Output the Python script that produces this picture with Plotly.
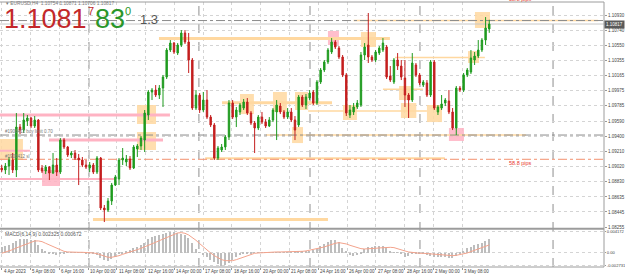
import plotly.graph_objects as go

# ---------------- data (EURUSD H4) ----------------
bars = list(range(134))

opens = [1.09000, 1.08975, 1.09025, 1.09101, 1.08975, 1.09517, 1.09479, 1.09593, 1.09631, 1.09530,
         1.09606, 1.09000, 1.08962, 1.09012, 1.08937, 1.09038, 1.08949, 1.09353, 1.09265, 1.09164,
         1.09189, 1.09126, 1.09101, 1.09038, 1.09000, 1.09038, 1.08949, 1.09126, 1.08495, 1.08470,
         1.08583, 1.08785, 1.08861, 1.09101, 1.09076, 1.09113, 1.09000, 1.09240, 1.09278, 1.09353,
         1.09669, 1.09959, 1.09984, 1.09921, 1.10009, 1.10148, 1.10489, 1.10577, 1.10451, 1.10552,
         1.10704, 1.10590, 1.10363, 1.09757, 1.09921, 1.09732, 1.09858, 1.09643, 1.09543, 1.09126,
         1.09227, 1.09265, 1.09391, 1.09820, 1.09643, 1.09707, 1.09757, 1.09833, 1.09694, 1.09568,
         1.09505, 1.09643, 1.09580, 1.09530, 1.09606, 1.09707, 1.09782, 1.09707, 1.09643, 1.09707,
         1.09606, 1.09543, 1.09896, 1.09795, 1.09883, 1.09959, 1.09820, 1.10085, 1.10237, 1.10338,
         1.10464, 1.10590, 1.10514, 1.10401, 1.10174, 1.09669, 1.09707, 1.09770, 1.09795, 1.10426,
         1.10552, 1.10401, 1.10363, 1.10451, 1.10489, 1.10527, 1.10161, 1.10085, 1.10363, 1.10287,
         1.10136, 1.09921, 1.09858, 1.10300, 1.10174, 1.10047, 1.10073, 1.09921, 1.10338, 1.09707,
         1.09757, 1.09820, 1.09845, 1.09707, 1.09505, 1.10009, 1.09984, 1.10174, 1.10211, 1.10363,
         1.10413, 1.10489, 1.10615, 1.10754]
highs = [1.09038, 1.09063, 1.09139, 1.09189, 1.09694, 1.09555, 1.09694, 1.09669, 1.09643, 1.09656,
         1.09618, 1.09038, 1.09038, 1.09025, 1.09189, 1.09126, 1.09378, 1.09378, 1.09278, 1.09214,
         1.09227, 1.09177, 1.09139, 1.09101, 1.09076, 1.09063, 1.09151, 1.09139, 1.08533, 1.08621,
         1.08811, 1.08912, 1.09126, 1.09252, 1.09164, 1.09151, 1.09290, 1.09303, 1.09404, 1.09732,
         1.09984, 1.10009, 1.10047, 1.10047, 1.10174, 1.10514, 1.10615, 1.10590, 1.10577, 1.10741,
         1.10741, 1.10704, 1.10388, 1.09984, 1.09946, 1.09959, 1.09984, 1.09669, 1.09568, 1.09278,
         1.09303, 1.09416, 1.09858, 1.09858, 1.09770, 1.09820, 1.09871, 1.09883, 1.09719, 1.09593,
         1.09669, 1.09707, 1.09618, 1.09643, 1.09757, 1.09858, 1.09820, 1.09732, 1.09757, 1.09757,
         1.09656, 1.09921, 1.09921, 1.09934, 1.09984, 1.09984, 1.10110, 1.10262, 1.10363, 1.10514,
         1.10640, 1.10615, 1.10540, 1.10426, 1.10199, 1.09795, 1.09820, 1.09858, 1.10464, 1.10577,
         1.10956, 1.10426, 1.10489, 1.10540, 1.10640, 1.10552, 1.10287, 1.10388, 1.10451, 1.10363,
         1.10363, 1.09946, 1.10451, 1.10325, 1.10199, 1.10110, 1.10110, 1.10363, 1.10363, 1.09795,
         1.09921, 1.09883, 1.09984, 1.09757, 1.10035, 1.10035, 1.10199, 1.10262, 1.10489, 1.10464,
         1.10615, 1.10640, 1.10905, 1.10871]
lows = [1.08949, 1.08924, 1.08912, 1.08937, 1.08886, 1.09429, 1.09442, 1.09530, 1.09505, 1.09505,
        1.08949, 1.08937, 1.08924, 1.08848, 1.08924, 1.08899, 1.08924, 1.09240, 1.09139, 1.09126,
        1.09101, 1.08785, 1.09012, 1.08987, 1.08949, 1.08924, 1.08924, 1.08470, 1.08318, 1.08445,
        1.08533, 1.08773, 1.08785, 1.09038, 1.09025, 1.08975, 1.08987, 1.09139, 1.09227, 1.09202,
        1.09606, 1.09858, 1.09896, 1.09871, 1.09770, 1.10123, 1.10464, 1.10439, 1.10426, 1.10527,
        1.10565, 1.10199, 1.09732, 1.09732, 1.09694, 1.09707, 1.09618, 1.09517, 1.09101, 1.09101,
        1.09202, 1.09227, 1.09353, 1.09618, 1.09517, 1.09669, 1.09732, 1.09669, 1.09543, 1.09189,
        1.09479, 1.09555, 1.09505, 1.09517, 1.09580, 1.09353, 1.09681, 1.09618, 1.09618, 1.09580,
        1.09353, 1.09517, 1.09770, 1.09744, 1.09858, 1.09795, 1.09795, 1.10060, 1.10211, 1.10312,
        1.10439, 1.10502, 1.10375, 1.10148, 1.09656, 1.09631, 1.09669, 1.09744, 1.09770, 1.10363,
        1.10325, 1.10338, 1.10338, 1.10426, 1.10464, 1.10123, 1.10085, 1.10060, 1.10237, 1.10110,
        1.09770, 1.09631, 1.09833, 1.10148, 1.10047, 1.10022, 1.09896, 1.09896, 1.09732, 1.09669,
        1.09732, 1.09782, 1.09681, 1.09479, 1.09416, 1.09959, 1.09959, 1.10148, 1.10186, 1.10300,
        1.10388, 1.10464, 1.10552, 1.10706]
closes = [1.08975, 1.09025, 1.09101, 1.08975, 1.09517, 1.09479, 1.09606, 1.09631, 1.09530, 1.09606,
          1.08975, 1.08962, 1.09012, 1.08937, 1.09038, 1.08949, 1.09353, 1.09265, 1.09164, 1.09189,
          1.09126, 1.09101, 1.09038, 1.09012, 1.09038, 1.08949, 1.09126, 1.08495, 1.08470, 1.08583,
          1.08785, 1.08886, 1.09101, 1.09126, 1.09113, 1.09000, 1.09265, 1.09278, 1.09378, 1.09694,
          1.09959, 1.09984, 1.09921, 1.10009, 1.10148, 1.10489, 1.10577, 1.10464, 1.10552, 1.10704,
          1.10590, 1.10363, 1.09757, 1.09921, 1.09732, 1.09858, 1.09643, 1.09543, 1.09126, 1.09252,
          1.09265, 1.09391, 1.09820, 1.09643, 1.09732, 1.09795, 1.09833, 1.09694, 1.09568, 1.09505,
          1.09643, 1.09580, 1.09530, 1.09606, 1.09732, 1.09795, 1.09707, 1.09643, 1.09707, 1.09606,
          1.09479, 1.09896, 1.09795, 1.09896, 1.09946, 1.09820, 1.10085, 1.10237, 1.10338, 1.10489,
          1.10590, 1.10527, 1.10401, 1.10174, 1.09694, 1.09732, 1.09770, 1.09820, 1.10426, 1.10527,
          1.10401, 1.10363, 1.10464, 1.10514, 1.10577, 1.10148, 1.10110, 1.10363, 1.10287, 1.10148,
          1.09921, 1.09858, 1.10325, 1.10174, 1.10073, 1.10085, 1.09921, 1.10338, 1.09757, 1.09770,
          1.09808, 1.09858, 1.09707, 1.09505, 1.10009, 1.09984, 1.10174, 1.10237, 1.10388, 1.10413,
          1.10489, 1.10615, 1.10767, 1.10817]

# MACD(6,14,9) main (histogram) and signal, in units of 1e-5
macd_main = [115, 128, 155, 196, 236, 270, 284, 284, 263, 250, 149, 81, 27, -34, -27, -47, -20, -7, 2, 7,
             3, 2, -3, -7, -7, -14, -54, -101, -149, -169, -135, -81, -34, -7, 41, 61, 95, 122, 162, 203,
             270, 311, 331, 351, 378, 398, 412, 417, 398, 385, 358, 304, 203, 81, 3, -54, -95, -149, -189, -236,
             -273, -243, -203, -149, -95, -47, -20, -14, -7, 2, 7, 7, 3, 3, 2, 3, 7, 7, 7, 14,
             20, 27, 34, 34, 41, 47, 81, 135, 169, 216, 250, 263, 223, 101, 20, -41, -61, -54, -14, 68,
             108, 122, 128, 135, 142, 95, 27, 7, 7, -7, -81, -61, -27, -20, -27, -34, -47, -68, -81, -88,
             -95, -95, -101, -108, -74, -27, 20, 88, 122, 149, 176, 203, 236, 270]
macd_signal = [-20, 0, 27, 54, 88, 115, 149, 182, 209, 230, 230, 216, 182, 149, 115, 81, 47, 20, 7, 0,
               0, 0, 0, 0, -7, -14, -27, -54, -81, -101, -101, -88, -68, -41, -20, 0, 27, 54, 81, 108,
               135, 169, 203, 236, 270, 304, 338, 371, 392, 398, 385, 351, 304, 243, 176, 108, 47, -14, -68, -115,
               -149, -169, -176, -169, -149, -122, -95, -68, -47, -20, -14, -7, 0, 0, 0, 7, 7, 7, 14, 14,
               14, 20, 20, 27, 41, 54, 68, 88, 108, 135, 162, 182, 196, 189, 169, 142, 115, 88, 74, 68,
               68, 74, 81, 88, 95, 101, 101, 95, 68, 47, 27, 7, -7, -14, -20, -20, -27, -34, -41, -47,
               -54, -61, -68, -68, -61, -47, -34, -14, 14, 41, 68, 95, 122, 149]

price_ticks = [1.10930, 1.10740, 1.10550, 1.10355, 1.10165, 1.09975, 1.09785, 1.09590,
               1.09400, 1.09210, 1.09020, 1.08830, 1.08635, 1.08445, 1.08255]
macd_ticks = [0.004172, 0.0, -0.002731]
macd_tick_text = ["0.004172", "0.00", "-0.002731"]

date_labels = ["4 Apr 2023", "5 Apr 08:00", "6 Apr 16:00", "10 Apr 00:00", "11 Apr 08:00",
               "12 Apr 16:00", "14 Apr 00:00", "17 Apr 08:00", "18 Apr 16:00", "20 Apr 00:00",
               "21 Apr 08:00", "24 Apr 16:00", "26 Apr 00:00", "27 Apr 08:00", "28 Apr 16:00",
               "2 May 00:00", "3 May 08:00"]
date_bars = [0, 7.85, 15.7, 23.55, 31.4, 39.25, 47.1, 54.95, 62.8, 70.65, 78.5, 86.35, 94.2,
             102.05, 109.9, 117.75, 125.6]
separator_bars = [23.8, 53.8, 84.1, 114.1, 150.4]

last_price = 1.10817
symbol_line = "EURUSD,H4  1.10754 1.10871 1.10706 1.10817"

ORANGE = "#FFD8A0"
PINK = "#FFB3C3"

# drawn levels: (from bar, to bar, price, colour, width)
levels = [
    (42.9, 105.9, 1.10634, ORANGE, 3),
    (60.1, 90.1, 1.09824, ORANGE, 3),
    (107.3, 131.8, 1.10394, ORANGE, 1.5),
    (104.0, 114.9, 1.09993, ORANGE, 1.5),
    (83.6, 116.0, 1.09719, ORANGE, 1.5),
    (24.9, 89.0, 1.08350, ORANGE, 3),
    (55.5, 120.9, 1.09122, ORANGE, 2),
    (72.1, 143.0, 1.09416, ORANGE, 1.5),
    (96.0, 162.7, 1.10861, ORANGE, 1.5),
    (-0.5, 45.9, 1.09669, PINK, 3),
    (12.9, 44.0, 1.09353, PINK, 3),
    (-0.5, 7.7, 1.09218, PINK, 2),
    (-0.5, 30.9, 1.08861, PINK, 2),
]
# zones: (from bar, to bar, upper price, lower price, colour)
zones = [
    (89.0, 92.0, 1.10729, 1.10552, PINK),
    (98.0, 102.1, 1.10716, 1.10527, ORANGE),
    (129.1, 133.2, 1.10969, 1.10767, ORANGE),
    (127.2, 130.2, 1.10476, 1.10325, ORANGE),
    (108.4, 111.9, 1.10035, 1.09858, ORANGE),
    (108.9, 113.1, 1.09820, 1.09631, ORANGE),
    (116.0, 120.1, 1.09795, 1.09580, ORANGE),
    (93.1, 96.9, 1.09795, 1.09606, ORANGE),
    (122.0, 126.1, 1.09505, 1.09341, PINK),
    (79.2, 82.2, 1.09517, 1.09315, ORANGE),
    (65.0, 68.8, 1.09934, 1.09681, ORANGE),
    (74.0, 77.8, 1.09959, 1.09707, ORANGE),
    (80.0, 83.6, 1.09959, 1.09732, ORANGE),
    (36.9, 42.1, 1.09795, 1.09555, ORANGE),
    (36.9, 42.1, 1.09454, 1.09227, ORANGE),
    (-0.5, 5.8, 1.09366, 1.09101, ORANGE),
    (11.0, 15.9, 1.08975, 1.08773, PINK),
]
# full-width order lines: (price, colour)
order_lines = [(1.10861, "#8C8C8C"), (1.09416, "#8C8C8C"), (1.09110, "#F2906E")]

# ---------------- figure ----------------
W, H = 625, 277
ML, MR, MT, MB = 0, 21, 2, 10
PW, PH = W - ML - MR, H - MT - MB
MAIN_DOM = [0.1472, 1.0]
SUB_DOM = [0.0, 0.1415]
XR = [-0.464, 164.3]
GRID = "#D4D4D4"
GREEN = "#1F9B1F"
RED = "#C41F1F"
FONT = "Arial"
TICK_FS = 4.5


def pxx(x):
    return (x - ML) / PW


def pxy(y):
    return 1 - (y - MT) / PH


fig = go.Figure()
fig.add_trace(go.Candlestick(
    x=bars, open=opens, high=highs, low=lows, close=closes,
    increasing=dict(line=dict(color=GREEN, width=1), fillcolor=GREEN),
    decreasing=dict(line=dict(color=RED, width=1), fillcolor=RED),
    whiskerwidth=0, xaxis="x", yaxis="y", showlegend=False, hoverinfo="skip"))
fig.add_trace(go.Bar(
    x=bars, y=[v * 1e-5 for v in macd_main], width=0.38,
    marker=dict(color="#BDBDBD", line=dict(width=0)),
    xaxis="x2", yaxis="y2", showlegend=False, hoverinfo="skip"))
fig.add_trace(go.Scatter(
    x=bars, y=[v * 1e-5 for v in macd_signal], mode="lines",
    line=dict(color="#F3A38C", width=1),
    xaxis="x2", yaxis="y2", showlegend=False, hoverinfo="skip"))

shapes = []
for x0, x1, p0, p1, c in zones:
    shapes.append(dict(type="rect", xref="x", yref="y", x0=x0, x1=x1, y0=p1, y1=p0,
                       fillcolor=c, opacity=0.85, line=dict(width=0), layer="between"))
for x0, x1, p, c, w in levels:
    shapes.append(dict(type="line", xref="x", yref="y", x0=x0, x1=x1, y0=p, y1=p,
                       line=dict(color=c, width=w), layer="between"))
for p, c in order_lines:
    shapes.append(dict(type="line", xref="x", yref="y", x0=XR[0], x1=XR[1], y0=p, y1=p,
                       line=dict(color=c, width=1, dash="dashdot"), layer="between"))
shapes.append(dict(type="line", xref="x", yref="y", x0=XR[0], x1=XR[1], y0=last_price, y1=last_price,
                   line=dict(color="#C8C8C8", width=1), layer="between"))
for b in separator_bars:
    shapes.append(dict(type="line", xref="x", yref="paper", x0=b, x1=b, y0=0, y1=1,
                       line=dict(color="#8E8E8E", width=1, dash="dash"), layer="between"))
# frame
FR = "#9C9C9C"
shapes += [
    dict(type="line", xref="paper", yref="paper", x0=0, x1=1, y0=1, y1=1, line=dict(color=FR, width=1)),
    dict(type="line", xref="paper", yref="paper", x0=1, x1=1, y0=0, y1=1, line=dict(color=FR, width=1)),
    dict(type="line", xref="paper", yref="paper", x0=0, x1=1, y0=0, y1=0, line=dict(color=FR, width=1)),
    dict(type="line", xref="paper", yref="paper", x0=0, x1=1, y0=(MAIN_DOM[0] + SUB_DOM[1]) / 2,
         y1=(MAIN_DOM[0] + SUB_DOM[1]) / 2, line=dict(color=FR, width=2)),
]

ann = []


def text(x, y, s, size, color, anchor="left", yanchor="middle"):
    ann.append(dict(x=pxx(x), y=pxy(y), xref="paper", yref="paper", text=s, showarrow=False,
                    xanchor=anchor, yanchor=yanchor, font=dict(family=FONT, size=size, color=color),
                    borderpad=0))


text(5, 3.5, "\u25be " + symbol_line, 4.8, "#7A7A7A")
text(3, 19, "1.1081", 27, "#C3282A")
text(86.5, 11.5, "7", 11, "#C3282A")
text(94, 19, "83", 27, "#2A962A")
text(123.5, 11.5, "0", 11, "#2A962A")
text(139, 19.5, "1.3", 13, "#555555")
text(4, 131.5, "#1906412 buy limit 0.70", 4.5, "#7A7A7A")
text(4, 156.5, "#1906412 sl", 4.5, "#7A7A7A")
text(508, 162.5, "58.8 pips", 5.5, "#E8352E")
text(508, -0.8, "58.8 pips", 5.5, "#E8352E")
text(4, 233.5, "MACD(6,14,9) 0.002325 0.000672", 5, "#555555")
ann.append(dict(x=1.0, y=last_price, xref="paper", yref="y", text="1.10817", showarrow=False,
                xanchor="left", yanchor="middle", bgcolor="#5A5A5A", borderpad=1,
                font=dict(family=FONT, size=TICK_FS, color="white")))
# time-scale labels, left-aligned at their bar like the terminal draws them
for b, lab in zip(date_bars, date_labels):
    ann.append(dict(x=b, y=pxy(271.5), xref="x2", yref="paper", text=lab, showarrow=False,
                    xanchor="left", yanchor="middle", xshift=1, borderpad=0,
                    font=dict(family=FONT, size=TICK_FS, color="#444444")))

axis_common = dict(showline=False, zeroline=False, automargin=False, fixedrange=True)
fig.update_layout(
    template="none", width=W, height=H,
    margin=dict(l=ML, r=MR, t=MT, b=MB, pad=0),
    paper_bgcolor="white", plot_bgcolor="white", showlegend=False,
    font=dict(family=FONT, size=5, color="#444444"),
    boxgap=0.45, bargap=0,
    xaxis=dict(domain=[0, 1], range=XR, anchor="y", tickvals=date_bars, showticklabels=False,
               ticks="", showgrid=True, gridcolor=GRID, griddash="dot", gridwidth=1,
               rangeslider=dict(visible=False), **axis_common),
    yaxis=dict(domain=MAIN_DOM, range=[1.08243, 1.11095], side="right", anchor="x",
               tickvals=price_ticks, ticktext=[f"{v:.5f}" for v in price_ticks],
               tickfont=dict(family=FONT, size=TICK_FS, color="#444444"),
               ticks="outside", ticklen=2, tickcolor="#999999",
               showgrid=True, gridcolor=GRID, griddash="dot", gridwidth=1, **axis_common),
    xaxis2=dict(domain=[0, 1], range=XR, anchor="y2", tickvals=date_bars, showticklabels=False,
                ticks="outside", ticklen=2, tickcolor="#999999",
                showgrid=True, gridcolor=GRID, griddash="dot", gridwidth=1, **axis_common),
    yaxis2=dict(domain=SUB_DOM, range=[-0.002977, 0.004617], side="right", anchor="x2",
                tickvals=macd_ticks, ticktext=macd_tick_text,
                tickfont=dict(family=FONT, size=4.1, color="#444444"),
                ticks="outside", ticklen=1, tickcolor="#999999",
                showgrid=True, gridcolor=GRID, griddash="dot", gridwidth=1, **axis_common),
    shapes=shapes, annotations=ann,
)

fig.write_html("out.html")
